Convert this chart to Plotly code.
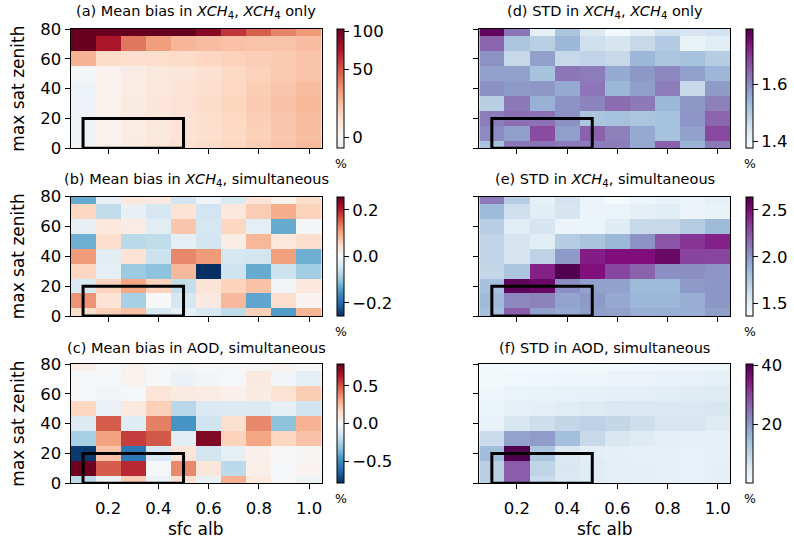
import numpy as np
import plotly.graph_objects as go

# ---------------- data ----------------
sfc_alb = [0.1, 0.2, 0.3, 0.4, 0.5, 0.6, 0.7, 0.8, 0.9, 1.0]
max_sat_zenith = [0, 10, 20, 30, 40, 50, 60, 70, 80]
x_ticks = [0.2, 0.4, 0.6, 0.8, 1.0]
y_ticks = [0, 20, 40, 60, 80]

# rows listed from top (zenith 80) to bottom (zenith 0)
bias_xch4_only = [
    [110, 110, 110, 110, 110, 90, 61, 47, 36, 30],
    [110, 75, 40, 29, 22, 20, 19, 18, 18, 20],
    [23, 11, 10, 10.5, 11, 13, 14, 15, 16, 18],
    [-1, 2, 4, 6, 7, 9, 12, 14, 16, 18],
    [-3, 2, 4.5, 6.5, 8, 10, 12.5, 15.5, 17.5, 20],
    [-2.5, 2, 5, 7, 8.5, 11, 13.5, 16, 18.5, 21],
    [-2, 2, 4.5, 6.5, 8, 10.5, 12.5, 15, 17.5, 20],
    [-2, 2, 4.5, 6, 8, 10, 12, 14.5, 17, 19.5],
    [-2, 2.5, 5, 7, 9, 11, 13, 15.5, 18, 21],
]
bias_xch4_simul = [
    [-0.13, -0.02, 0.03, 0.025, -0.05, -0.01, -0.04, 0.035, 0.012, 0.045],
    [0.055, -0.065, -0.02, -0.045, 0.035, -0.05, 0.03, 0.065, 0.095, 0.06],
    [-0.02, 0.03, 0.02, -0.03, 0.07, -0.045, 0.055, -0.025, -0.13, -0.005],
    [-0.125, 0.045, -0.07, -0.065, -0.025, -0.05, 0.02, 0.085, 0.03, 0.045],
    [0.11, -0.028, 0.035, -0.055, 0.125, 0.11, -0.045, -0.048, 0.105, -0.125],
    [0.055, -0.025, -0.095, -0.105, 0.083, -0.26, -0.053, -0.13, -0.055, -0.09],
    [-0.04, 0.058, 0.1, 0.058, -0.062, 0.035, 0.058, 0.075, -0.008, 0.03],
    [0.115, 0.035, -0.085, 0.0, -0.045, 0.025, 0.083, -0.135, 0.045, 0.007],
    [0.045, 0.062, 0.075, -0.04, -0.025, -0.042, -0.067, 0.062, -0.145, 0.088],
]
bias_aod_simul = [
    [0.05, 0.0, 0.03, -0.01, -0.02, -0.01, -0.01, 0.01, 0.02, -0.01],
    [-0.01, -0.01, 0.03, -0.01, -0.05, -0.02, -0.01, 0.08, -0.03, -0.08],
    [-0.01, -0.03, -0.01, 0.1, 0.07, 0.06, 0.04, 0.07, 0.12, 0.2],
    [0.17, -0.05, 0.08, 0.19, -0.22, -0.12, -0.11, -0.11, -0.07, -0.16],
    [-0.11, 0.48, -0.1, 0.4, -0.47, -0.16, 0.13, 0.38, -0.32, 0.28],
    [-0.26, 0.32, 0.55, 0.49, -0.09, 0.74, 0.18, 0.31, 0.17, 0.23],
    [-0.76, 0.23, -0.57, -0.12, 0.1, -0.15, -0.08, 0.04, 0.0, 0.01],
    [0.78, 0.48, 0.6, -0.01, 0.38, 0.09, -0.21, 0.05, -0.01, 0.02],
    [-0.21, -0.05, 0.2, -0.05, 0.12, -0.06, 0.28, 0.08, -0.01, -0.04],
]
std_xch4_only = [
    [1.777, 1.624, 1.418, 1.513, 1.435, 1.39, 1.42, 1.45, 1.44, 1.45],
    [1.645, 1.513, 1.49, 1.54, 1.455, 1.443, 1.468, 1.5, 1.41, 1.426],
    [1.59, 1.47, 1.57, 1.47, 1.478, 1.468, 1.54, 1.51, 1.52, 1.497],
    [1.57, 1.57, 1.517, 1.624, 1.616, 1.558, 1.583, 1.604, 1.57, 1.54],
    [1.591, 1.579, 1.583, 1.558, 1.624, 1.538, 1.575, 1.616, 1.468, 1.579],
    [1.492, 1.62, 1.55, 1.59, 1.608, 1.637, 1.62, 1.538, 1.583, 1.612],
    [1.616, 1.634, 1.63, 1.592, 1.513, 1.52, 1.513, 1.518, 1.587, 1.645],
    [1.6, 1.575, 1.677, 1.575, 1.65, 1.612, 1.558, 1.52, 1.57, 1.682],
    [1.52, 1.62, 1.63, 1.616, 1.616, 1.616, 1.56, 1.65, 1.545, 1.62],
]
std_xch4_simul = [
    [2.107, 1.726, 1.497, 1.586, 1.446, 1.383, 1.446, 1.47, 1.446, 1.497],
    [1.846, 1.61, 1.52, 1.573, 1.446, 1.46, 1.497, 1.52, 1.446, 1.47],
    [1.726, 1.52, 1.573, 1.446, 1.45, 1.529, 1.65, 1.65, 1.738, 1.85],
    [1.68, 1.573, 1.52, 1.738, 1.79, 1.865, 2.018, 2.246, 2.36, 2.424],
    [1.68, 1.573, 1.694, 1.99, 2.437, 2.488, 2.488, 2.551, 2.31, 2.303],
    [1.662, 1.776, 2.424, 2.627, 2.481, 2.303, 2.195, 2.03, 2.03, 2.01],
    [1.81, 2.589, 2.551, 2.03, 1.954, 1.954, 1.85, 1.85, 1.99, 2.0],
    [1.85, 2.056, 2.08, 1.95, 1.99, 1.93, 1.87, 1.87, 1.9, 2.0],
    [1.82, 2.21, 1.96, 1.92, 1.97, 1.96, 1.9, 1.91, 1.9, 1.97],
]
std_aod_simul = [
    [1.0, 1.0, 1.0, 1.0, 1.2, 1.3, 1.5, 1.7, 2.0, 2.0],
    [1.2, 1.5, 1.8, 2.0, 2.3, 2.6, 2.9, 3.2, 3.5, 3.8],
    [2.0, 3.0, 3.3, 3.6, 4.0, 4.3, 4.6, 4.9, 5.2, 5.5],
    [3.0, 3.8, 4.5, 5.0, 5.5, 6.0, 6.0, 6.0, 6.0, 6.5],
    [3.5, 6.5, 8.0, 9.5, 10.5, 9.5, 8.0, 6.5, 6.5, 5.5],
    [8.5, 18.5, 19.5, 14.5, 9.0, 6.5, 5.5, 4.5, 4.0, 4.0],
    [15.0, 40.0, 13.0, 6.0, 4.8, 4.2, 4.0, 3.8, 3.5, 3.8],
    [11.0, 27.0, 10.0, 6.3, 5.2, 4.5, 4.2, 4.0, 3.6, 4.2],
    [11.0, 27.0, 8.5, 6.0, 5.2, 4.6, 4.3, 4.0, 3.6, 4.3],
]

titles = [
    "(a) Mean bias in <i>XCH</i><sub>4</sub>, <i>XCH</i><sub>4</sub> only",
    "(d) STD in <i>XCH</i><sub>4</sub>, <i>XCH</i><sub>4</sub> only",
    "(b) Mean bias in <i>XCH</i><sub>4</sub>, simultaneous",
    "(e) STD in <i>XCH</i><sub>4</sub>, simultaneous",
    "(c) Mean bias in AOD, simultaneous",
    "(f) STD in AOD, simultaneous",
]

# ---------------- colour helpers ----------------
RDBU_R = ['#053061', '#2166ac', '#4393c3', '#92c5de', '#d1e5f0', '#f7f7f7',
          '#fddbc7', '#f4a582', '#d6604d', '#b2182b', '#67001f']
BUPU = ['#f7fcfd', '#e0ecf4', '#bfd3e6', '#9ebcda', '#8c96c6', '#8c6bb1',
        '#88419d', '#810f7c', '#4d004b']


def hex2rgb(h):
    h = h.lstrip('#')
    return [int(h[i:i + 2], 16) for i in (0, 2, 4)]


def sample(cols, c):
    c = min(max(c, 0.0), 1.0)
    n = len(cols) - 1
    i = min(int(c * n), n - 1)
    f = c * n - i
    a, b = hex2rgb(cols[i]), hex2rgb(cols[i + 1])
    r = [round(a[k] + (b[k] - a[k]) * f) for k in range(3)]
    return f"rgb({r[0]},{r[1]},{r[2]})"


def even_scale(cols):
    n = len(cols) - 1
    return [[i / n, cols[i]] for i in range(n + 1)]


# non-linear colour norm of panel (a)
def norm_a(v):
    return 0.088 + 0.732 * np.log1p(np.asarray(v, dtype=float) / 42.0)


scale_a = [[p, sample(RDBU_R, 0.452 + 0.548 * p)] for p in np.linspace(0, 1, 41)]

# ---------------- layout geometry ----------------
W, H = 794, 543
xdom_l = [70.5 / W, 321.7 / W]
xdom_r = [479.3 / W, 730.3 / W]
rows_px = [(29.0, 148.3), (196.7, 316.0), (364.0, 483.3)]
ydoms = [[1 - b / H, 1 - t / H] for t, b in rows_px]
cb_x = [336.5 / W, 745.5 / W]

panels = [
    (bias_xch4_only, scale_a, 0, 1, list(norm_a([0, 50, 100])), ['0', '50', '100'], 0, 0, True),
    (std_xch4_only, even_scale(BUPU), 1.376, 1.795, [1.4, 1.6], ['1.4', '1.6'], 1, 0, False),
    (bias_xch4_simul, even_scale(RDBU_R), -0.256, 0.256, [-0.2, 0.0, 0.2], ['\u22120.2', '0.0', '0.2'], 0, 1, False),
    (std_xch4_simul, even_scale(BUPU), 1.37, 2.64, [1.5, 2.0, 2.5], ['1.5', '2.0', '2.5'], 1, 1, False),
    (bias_aod_simul, even_scale(RDBU_R), -0.79, 0.79, [-0.5, 0.0, 0.5], ['\u22120.5', '0.0', '0.5'], 0, 2, False),
    (std_aod_simul, even_scale(BUPU), 0.2, 40.3, [20, 40], ['20', '40'], 1, 2, False),
]

FS_TICK = 16.5
fig = go.Figure()
annotations = []
shapes = []
layout_axes = {}

for k, (data, cscale, zmin, zmax, tv, tt, col, row, is_a) in enumerate(panels):
    idx = k + 1
    xa = 'x' if idx == 1 else f'x{idx}'
    ya = 'y' if idx == 1 else f'y{idx}'
    z = np.array(data[::-1], dtype=float)  # bottom row first
    if is_a:
        z = norm_a(z)
    t, b = rows_px[row]
    cb_center = 1 - (t + b) / 2 / H
    fig.add_trace(go.Heatmap(
        x=sfc_alb, y=max_sat_zenith, z=z,
        colorscale=cscale, zmin=zmin, zmax=zmax,
        xaxis=xa, yaxis=ya,
        colorbar=dict(
            x=cb_x[col], xanchor='left', y=cb_center, yanchor='middle',
            xref='container', yref='container',
            len=b - t, lenmode='pixels', thickness=7, thicknessmode='pixels',
            outlinewidth=1, outlinecolor='black', xpad=0, ypad=0,
            ticks='outside', ticklen=5, tickwidth=1, tickcolor='black',
            tickvals=tv, ticktext=tt, tickfont=dict(size=FS_TICK, color='black'),
        ),
    ))
    xdom = xdom_l if col == 0 else xdom_r
    common = dict(showline=True, mirror=True, linecolor='black', linewidth=1,
                  ticks='outside', ticklen=5, tickwidth=1, tickcolor='black',
                  showgrid=False, zeroline=False, automargin=False,
                  tickfont=dict(size=FS_TICK, color='black'))
    layout_axes['xaxis' if idx == 1 else f'xaxis{idx}'] = dict(
        domain=xdom, anchor=ya, range=[0.05, 1.05],
        tickvals=x_ticks, ticktext=[f"{v:.1f}" for v in x_ticks],
        showticklabels=(row == 2), ticklabelstandoff=5, **common)
    layout_axes['yaxis' if idx == 1 else f'yaxis{idx}'] = dict(
        domain=ydoms[row], anchor=xa, range=[0, 80],
        tickvals=y_ticks, ticktext=[str(v) for v in y_ticks],
        showticklabels=(col == 0), **common)

    annotations.append(dict(
        x=(xdom[0] + xdom[1]) / 2, y=ydoms[row][1], xref='paper', yref='paper',
        xanchor='center', yanchor='middle', yshift=16.5, showarrow=False,
        text=titles[k], font=dict(size=14.5, color='black')))
    annotations.append(dict(
        x=cb_x[col] + 4 / W, y=1 - (b + 15) / H, xref='paper', yref='paper',
        xanchor='center', yanchor='middle', showarrow=False,
        text='%', font=dict(size=12.5, color='black')))
    if col == 0:
        annotations.append(dict(
            x=18 / W, y=1 - (t + b) / 2 / H, xref='paper', yref='paper',
            xanchor='center', yanchor='middle', showarrow=False, textangle=-90,
            text='max sat zenith', font=dict(size=17, color='black')))
    if row == 2:
        annotations.append(dict(
            x=(xdom[0] + xdom[1]) / 2, y=1 - 529 / H, xref='paper', yref='paper',
            xanchor='center', yanchor='middle', showarrow=False,
            text='sfc alb', font=dict(size=17, color='black')))
    shapes.append(dict(type='rect', xref=xa, yref=ya, x0=0.1, x1=0.5, y0=0, y1=20,
                       line=dict(color='black', width=3), fillcolor='rgba(0,0,0,0)',
                       layer='above'))

fig.update_layout(
    width=W, height=H, margin=dict(l=0, r=0, t=0, b=0, pad=0, autoexpand=False),
    paper_bgcolor='white', plot_bgcolor='white',
    font=dict(family='DejaVu Sans', color='black'),
    annotations=annotations, shapes=shapes, **layout_axes,
)

fig.write_html("out.html")
